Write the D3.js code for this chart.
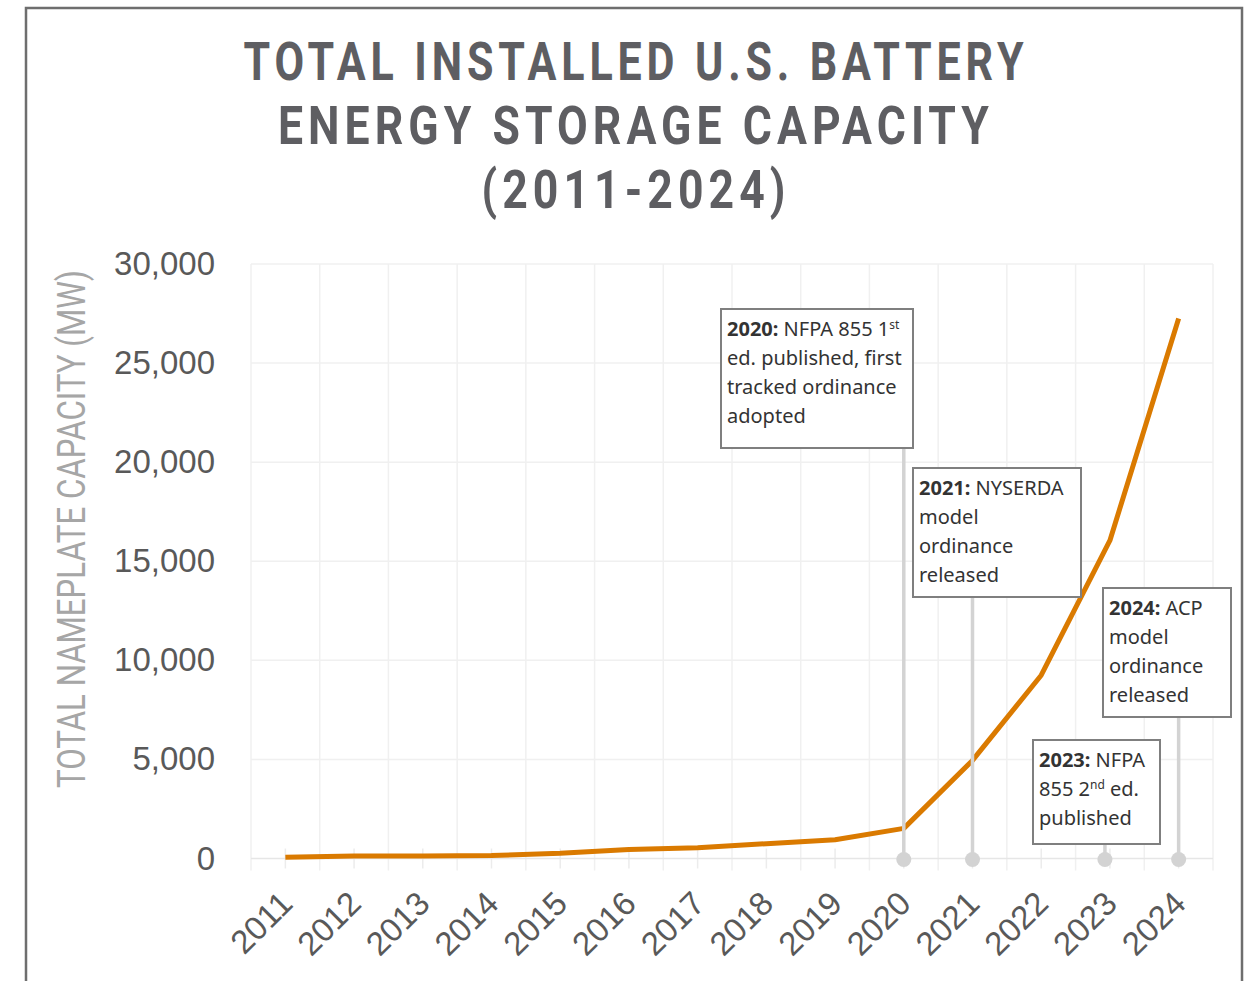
<!DOCTYPE html>
<html>
<head>
<meta charset="utf-8">
<script src="https://cdn.jsdelivr.net/npm/d3@7"></script>
<style>
  body { margin: 0; background: #fff; }
  svg { display: block; }
</style>
</head>
<body>
<div id="chart"></div>
<script>
// data
var years = ["2011", "2012", "2013", "2014", "2015", "2016", "2017",
             "2018", "2019", "2020", "2021", "2022", "2023", "2024"];
var capacity = [60, 130, 130, 150, 260, 450, 540, 750, 950, 1520, 4950, 9250, 16050, 27250];
var yTicks = [0, 5000, 10000, 15000, 20000, 25000, 30000];
var titleLines = ["TOTAL INSTALLED U.S. BATTERY", "ENERGY STORAGE CAPACITY", "(2011-2024)"];
var yTitle = "TOTAL NAMEPLATE CAPACITY (MW)";

// annotation text, each line a list of [text, style] runs
var noteYears = ["2020", "2021", "2023", "2024"];
var noteText = [
    [[["2020:", "b"], [" NFPA 855 1", ""], ["st", "sup"]],
     [["ed. published, first", ""]],
     [["tracked ordinance", ""]],
     [["adopted", ""]]],
    [[["2021:", "b"], [" NYSERDA", ""]],
     [["model", ""]],
     [["ordinance", ""]],
     [["released", ""]]],
    [[["2023:", "b"], [" NFPA", ""]],
     [["855 2", ""], ["nd", "sup"], [" ed.", ""]],
     [["published", ""]]],
    [[["2024:", "b"], [" ACP", ""]],
     [["model", ""]],
     [["ordinance", ""]],
     [["released", ""]]]
];

// box layout (px), kept apart from the data
var boxLayout = [
    {x: 721, y: 309, w: 192, h: 139, dx: 0},
    {x: 913, y: 468, w: 168, h: 129, dx: 0},
    {x: 1033, y: 740, w: 127, h: 104, dx: -5},
    {x: 1103, y: 588, w: 128, h: 129, dx: 0}
];

var width = 1252, height = 981;
var plotLeft = 251, plotRight = 1213, plotTop = 264, plotBottom = 858.5;

var svg = d3.select("#chart").append("svg")
    .attr("width", width)
    .attr("height", height);

// outer frame
svg.append("rect")
    .attr("x", 26).attr("y", 8)
    .attr("width", 1216).attr("height", 1000)
    .attr("fill", "none")
    .attr("stroke", "#6e6e6e")
    .attr("stroke-width", 2.5);

// title: wide letter spacing, then squeezed to the measured width
var titleG = svg.append("g").attr("id", "title");
var titleWidths = [785, 716, 309];
titleLines.forEach(function(t, i) {
    titleG.append("text")
        .attr("x", 636)
        .attr("y", 80 + i * 64)
        .attr("text-anchor", "middle")
        .attr("textLength", titleWidths[i])
        .attr("lengthAdjust", "spacingAndGlyphs")
        .style("font-family", "Roboto, 'DejaVu Sans', sans-serif")
        .style("font-weight", "bold")
        .style("font-size", "53px")
        .style("letter-spacing", "6px")
        .style("fill", "#5e5e62")
        .text(t);
});

var x = d3.scaleBand().domain(years).range([plotLeft, plotRight]);
var y = d3.scaleLinear().domain([0, 30000]).range([plotBottom, plotTop]);
function cx(d) { return x(d) + x.bandwidth() / 2; }

// gridlines
var gridG = svg.append("g").attr("id", "grid");
gridG.selectAll(".hgrid")
    .data(yTicks.slice(1))
    .enter()
    .append("line")
    .attr("class", "hgrid")
    .attr("x1", plotLeft).attr("x2", plotRight)
    .attr("y1", function(d) { return y(d); })
    .attr("y2", function(d) { return y(d); })
    .attr("stroke", "#f0f0f0")
    .attr("stroke-width", 1.5);

var bounds = years.map(function(d) { return x(d); }).concat([plotRight]);
gridG.selectAll(".vgrid")
    .data(bounds)
    .enter()
    .append("line")
    .attr("class", "vgrid")
    .attr("x1", function(d) { return d; })
    .attr("x2", function(d) { return d; })
    .attr("y1", plotTop).attr("y2", plotBottom + 12)
    .attr("stroke", "#f0f0f0")
    .attr("stroke-width", 1.5);

gridG.selectAll(".ctick")
    .data(years)
    .enter()
    .append("line")
    .attr("class", "ctick")
    .attr("x1", cx).attr("x2", cx)
    .attr("y1", plotBottom - 10).attr("y2", plotBottom + 10)
    .attr("stroke", "#ececec")
    .attr("stroke-width", 1.5);

gridG.append("line")
    .attr("x1", plotLeft).attr("x2", plotRight)
    .attr("y1", plotBottom).attr("y2", plotBottom)
    .attr("stroke", "#e6e6e6")
    .attr("stroke-width", 1.5);

// y axis
var yAxis = svg.append("g")
    .attr("transform", "translate(215,0)")
    .call(d3.axisLeft(y).tickValues(yTicks).tickSize(0).tickPadding(0).tickFormat(d3.format(",")));
yAxis.select(".domain").remove();
yAxis.selectAll("text")
    .style("font-family", "'Liberation Sans', Arial, sans-serif")
    .style("font-size", "33px")
    .style("fill", "#595959");

svg.append("text")
    .attr("transform", "translate(85,529) rotate(-90)")
    .attr("text-anchor", "middle")
    .attr("textLength", 518)
    .attr("lengthAdjust", "spacingAndGlyphs")
    .style("font-family", "Roboto, 'Liberation Sans', sans-serif")
    .style("font-size", "38px")
    .style("fill", "#a6a6a6")
    .text(yTitle);

// x axis labels
var xAxis = svg.append("g")
    .attr("transform", "translate(0," + plotBottom + ")")
    .call(d3.axisBottom(x).tickSize(0));
xAxis.select(".domain").remove();
xAxis.selectAll("text")
    .attr("text-anchor", "end")
    .attr("transform", "translate(9,47) rotate(-45)")
    .attr("y", 0).attr("dy", 0)
    .style("font-family", "'Liberation Sans', Arial, sans-serif")
    .style("font-size", "33px")
    .style("fill", "#595959");

// the series
var line = d3.line()
    .x(function(d, i) { return cx(years[i]); })
    .y(function(d) { return y(d); });

svg.append("path")
    .datum(capacity)
    .attr("d", line)
    .attr("fill", "none")
    .attr("stroke", "#da7a00")
    .attr("stroke-width", 5)
    .attr("stroke-linejoin", "round");

// annotations
var noteG = svg.append("g").attr("id", "notes");
noteYears.forEach(function(yr, i) {
    var b = boxLayout[i];
    var lx = cx(yr) + b.dx;
    noteG.append("line")
        .attr("x1", lx).attr("x2", lx)
        .attr("y1", b.y + b.h).attr("y2", plotBottom + 1)
        .attr("stroke", "#d3d3d3")
        .attr("stroke-width", 3.5);
    noteG.append("circle")
        .attr("cx", lx).attr("cy", plotBottom + 1)
        .attr("r", 7.5)
        .attr("fill", "#d3d3d3");

    noteG.append("rect")
        .attr("x", b.x).attr("y", b.y)
        .attr("width", b.w).attr("height", b.h)
        .attr("fill", "#fff")
        .attr("stroke", "#7f7f7f")
        .attr("stroke-width", 2);

    var txt = noteG.append("text")
        .style("font-family", "'Noto Sans', 'Open Sans', sans-serif")
        .style("font-size", "20px")
        .style("fill", "#333");
    noteText[i].forEach(function(runs, j) {
        runs.forEach(function(r, k) {
            var ts = txt.append("tspan").text(r[0]);
            if (k == 0) ts.attr("x", b.x + 6).attr("y", b.y + 27 + j * 29);
            if (r[1] == "b") ts.style("font-weight", "bold");
            if (r[1] == "sup") ts.attr("dy", -7).style("font-size", "12px");
            if (k > 0 && runs[k - 1][1] == "sup") ts.attr("dy", 7);
        });
    });
});
</script>
</body>
</html>
